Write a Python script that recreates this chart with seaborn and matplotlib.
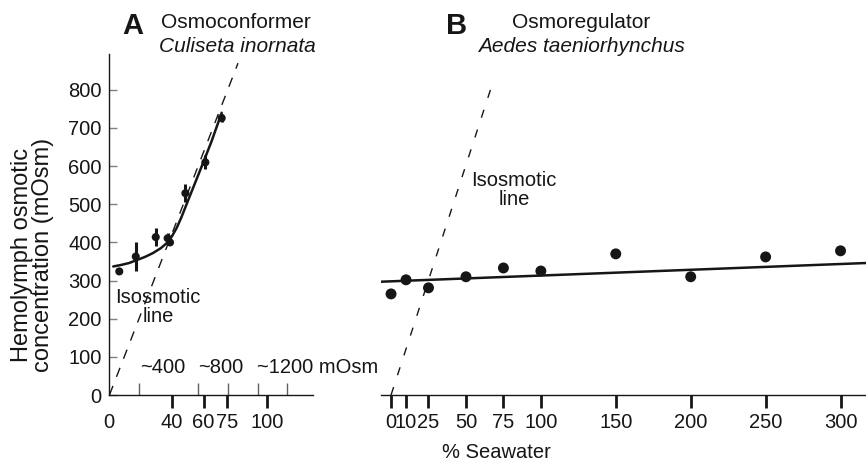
import matplotlib
matplotlib.use("Agg")
import matplotlib.pyplot as plt
import seaborn as sns

# panel A - osmoconformer (Culiseta inornata)
a_x = [6.8, 17.2, 29.8, 37.3, 38.8, 48.5, 61.1, 71.4]
a_y = [324, 363, 414, 411, 400, 529, 610, 726]
a_err = [8, 38, 24, 14, 0, 23, 18, 11]
a_fit_x = [3, 8, 13, 18, 23, 28, 33, 37, 40, 43, 46, 50, 55, 60, 65, 71.4]
a_fit_y = [337, 341, 346, 354, 362, 372, 385, 399, 416, 438, 466, 508, 560, 612, 665, 740]
a_iso_x = [0.6, 81.7]
a_iso_y = [0, 870]
a_ticks = [0, 40, 60, 75, 100]
a_mosm_ticks = [19.2, 56.5, 75.4, 94.3, 112.6]
a_mosm_labels = ["~400", "~800"]
a_mosm_label_x = [34.5, 71]

# panel B - osmoregulator (Aedes taeniorhynchus)
b_x = [0, 10, 25, 50, 75, 100, 150, 200, 250, 300]
b_y = [265, 302, 281, 310, 333, 325, 370, 310, 362, 378]
b_fit_x = [-6.7, 317]
b_fit_y = [297, 346]
b_iso_x = [0, 68]
b_iso_y = [0, 820]
b_ticks = [0, 10, 25, 50, 75, 100, 150, 200, 250, 300]

y_ticks = [0, 100, 200, 300, 400, 500, 600, 700, 800]

sns.set_theme(style="ticks")
plt.rcParams["font.family"] = ["Liberation Sans", "DejaVu Sans"]
ink = "#161616"
fs = 14.5

fig = plt.figure(figsize=(8.66, 4.61), dpi=100)
axA = fig.add_axes([108.5 / 866, 66 / 461, 204.5 / 866, 341 / 461])
axB = fig.add_axes([381 / 866, 66 / 461, 485 / 866, 341 / 461])

# ---- A ----
axA.errorbar(a_x, a_y, yerr=a_err, fmt="none", ecolor=ink, elinewidth=2.2, capsize=0)
sns.scatterplot(x=a_x, y=a_y, ax=axA, s=34, color=ink, edgecolor="none", zorder=3)
sns.lineplot(x=a_fit_x, y=a_fit_y, ax=axA, color=ink, lw=1.8, sort=False)
axA.plot(a_iso_x, a_iso_y, color=ink, lw=1, linestyle=(0, (7, 7)), clip_on=False)
axA.set_xlim(0, 129)
axA.set_ylim(0, 894)
axA.set_yticks(y_ticks)
axA.set_xticks(a_ticks)
axA.set_xticks(a_mosm_ticks, minor=True)
axA.tick_params(axis="y", direction="in", length=6, width=1, color="#808080",
                labelsize=fs, pad=5, labelcolor=ink)
axA.tick_params(axis="x", which="major", direction="out", length=9.5, width=2,
                color=ink, labelsize=fs, pad=3.5, labelcolor=ink)
axA.tick_params(axis="x", which="minor", direction="in", length=8.5, width=1,
                color="#606060")
axA.xaxis.get_major_ticks()[0].tick1line.set_visible(False)
sns.despine(ax=axA)
for s in ["left", "bottom"]:
    axA.spines[s].set_linewidth(1)
    axA.spines[s].set_color(ink)
axA.set_ylabel("Hemolymph osmotic\nconcentration (mOsm)", fontsize=17,
               color=ink, linespacing=0.95)
axA.yaxis.set_label_coords(-0.265, 0.41)
axA.text(31.2, 231, "Isosmotic\nline", ha="center", va="center", fontsize=fs,
         color=ink, linespacing=1.0)
for lab, lx in zip(a_mosm_labels, a_mosm_label_x):
    axA.text(lx, 71, lab, ha="center", va="center", fontsize=fs, color=ink)
axA.text(93.7, 71, "~1200 mOsm", ha="left", va="center", fontsize=fs, color=ink,
         clip_on=False)

# ---- B ----
sns.scatterplot(x=b_x, y=b_y, ax=axB, s=62, color=ink, edgecolor="none", zorder=3)
sns.lineplot(x=b_fit_x, y=b_fit_y, ax=axB, color=ink, lw=1.8)
axB.plot(b_iso_x, b_iso_y, color=ink, lw=1, linestyle=(0, (6, 9)))
axB.set_xlim(-6.7, 317)
axB.set_ylim(0, 894)
axB.set_xticks(b_ticks)
axB.set_yticks([])
axB.tick_params(axis="x", direction="out", length=9.5, width=2, color=ink,
                labelsize=fs, pad=3.5, labelcolor=ink)
sns.despine(ax=axB, left=True)
axB.spines["bottom"].set_linewidth(1)
axB.spines["bottom"].set_color(ink)
axB.set_xlabel("% Seawater", fontsize=fs, color=ink)
axB.xaxis.set_label_coords(0.239, -0.14)
axB.text(82.2, 538, "Isosmotic\nline", ha="center", va="center", fontsize=fs,
         color=ink, linespacing=1.0)
for ax in (axA, axB):
    ax.set_facecolor("none")

# headings
fig.text(133 / 866, 1 - 26 / 461, "A", fontsize=21, fontweight="bold",
         ha="center", va="center", color=ink)
fig.text(236 / 866, 1 - 22 / 461, "Osmoconformer", fontsize=15,
         ha="center", va="center", color=ink)
fig.text(237 / 866, 1 - 47 / 461, "Culiseta inornata", fontsize=15,
         style="italic", ha="center", va="center", color=ink)
fig.text(457 / 866, 1 - 26 / 461, "B", fontsize=21, fontweight="bold",
         ha="center", va="center", color=ink)
fig.text(581 / 866, 1 - 22 / 461, "Osmoregulator", fontsize=15,
         ha="center", va="center", color=ink)
fig.text(581 / 866, 1 - 47 / 461, "Aedes taeniorhynchus", fontsize=15,
         style="italic", ha="center", va="center", color=ink)

fig.savefig("out.png", dpi=100, facecolor="white")
